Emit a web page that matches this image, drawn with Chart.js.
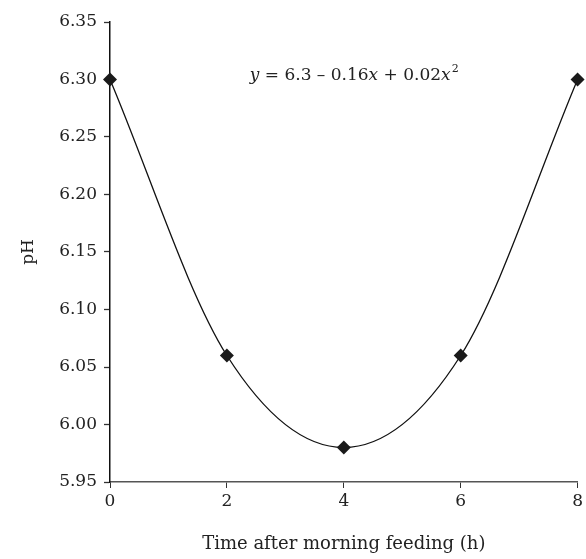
<!DOCTYPE html>
<html>
<head>
<meta charset="utf-8">
<script src="https://cdn.jsdelivr.net/npm/chart.js@4"></script>
<style>
    html, body { margin: 0; padding: 0; background: #fff; }
    #wrap { width: 586px; height: 559px; }
</style>
</head>
<body>
<div id="wrap"><canvas id="phChart" width="586" height="559"></canvas></div>
<script>
// Data
const hours = [0, 2, 4, 6, 8];
const phValues = [6.30, 6.06, 5.98, 6.06, 6.30];
const xTicks = [0, 2, 4, 6, 8];
const yTicks = [5.95, 6.00, 6.05, 6.10, 6.15, 6.20, 6.25, 6.30, 6.35];

const FONT = '"DejaVu Serif", serif';

// Equation label drawn in data coordinates
const equationPlugin = {
    id: 'equation',
    afterDatasetsDraw(chart) {
        const ctx = chart.ctx;
        const xs = chart.scales.x, ys = chart.scales.y;
        const parts = [
            ['y', true], [' = 6.3 \u2013 0.16', false], ['x', true],
            [' + 0.02', false], ['x', true]
        ];
        const size = 17;
        ctx.save();
        ctx.fillStyle = '#222';
        ctx.textBaseline = 'alphabetic';
        let total = 0;
        parts.forEach(p => {
            ctx.font = (p[1] ? 'italic ' : '') + size + 'px ' + FONT;
            total += ctx.measureText(p[0]).width;
        });
        ctx.font = '11px ' + FONT;
        total += ctx.measureText('2').width;
        let x = xs.getPixelForValue(4.17) - total / 2;
        const y = ys.getPixelForValue(6.300);
        parts.forEach(p => {
            ctx.font = (p[1] ? 'italic ' : '') + size + 'px ' + FONT;
            ctx.fillText(p[0], x, y);
            x += ctx.measureText(p[0]).width;
        });
        ctx.font = '11px ' + FONT;
        ctx.fillText('2', x + 1, y - 8);
        ctx.restore();
    }
};

document.addEventListener('DOMContentLoaded', function() {
    const ctx = document.getElementById('phChart');
    new Chart(ctx, {
        type: 'line',
        data: {
            datasets: [{
                label: 'pH',
                data: hours.map((h, i) => ({ x: h, y: phValues[i] })),
                borderColor: '#111',
                borderWidth: 1.3,
                backgroundColor: '#1a1a1a',
                pointStyle: 'rectRot',
                pointRadius: 7,
                pointBorderWidth: 0,
                cubicInterpolationMode: 'monotone',
                clip: false
            }]
        },
        options: {
            responsive: false,
            animation: false,
            layout: { padding: { top: 22, right: 8, left: 0, bottom: 0 } },
            plugins: {
                legend: { display: false },
                tooltip: { enabled: false }
            },
            scales: {
                x: {
                    type: 'linear',
                    min: 0,
                    max: 8,
                    afterBuildTicks: s => { s.ticks = xTicks.map(v => ({ value: v })); },
                    afterFit: s => { s.height = 77; },
                    border: { display: true, color: '#555', width: 1.5 },
                    grid: { display: true, drawOnChartArea: false, tickLength: 6, tickColor: '#333', tickWidth: 1 },
                    ticks: { color: '#222', font: { family: FONT, size: 17 }, padding: 3, maxRotation: 0 },
                    title: { display: true, text: 'Time after morning feeding (h)', color: '#222', font: { family: FONT, size: 18 }, padding: { top: 16 } }
                },
                y: {
                    min: 5.95,
                    max: 6.35,
                    afterBuildTicks: s => { s.ticks = yTicks.map(v => ({ value: v })); },
                    afterFit: s => { s.width = 110; },
                    border: { display: true, color: '#111', width: 1.5 },
                    grid: { display: true, drawOnChartArea: false, tickLength: 6, tickColor: '#333', tickWidth: 1.3 },
                    ticks: { color: '#222', font: { family: FONT, size: 17 }, padding: 7, callback: v => v.toFixed(2) },
                    title: { display: true, text: 'pH', color: '#222', font: { family: FONT, size: 17 }, padding: { top: 18, bottom: 0 } }
                }
            }
        },
        plugins: [equationPlugin]
    });
});
</script>
</body>
</html>
